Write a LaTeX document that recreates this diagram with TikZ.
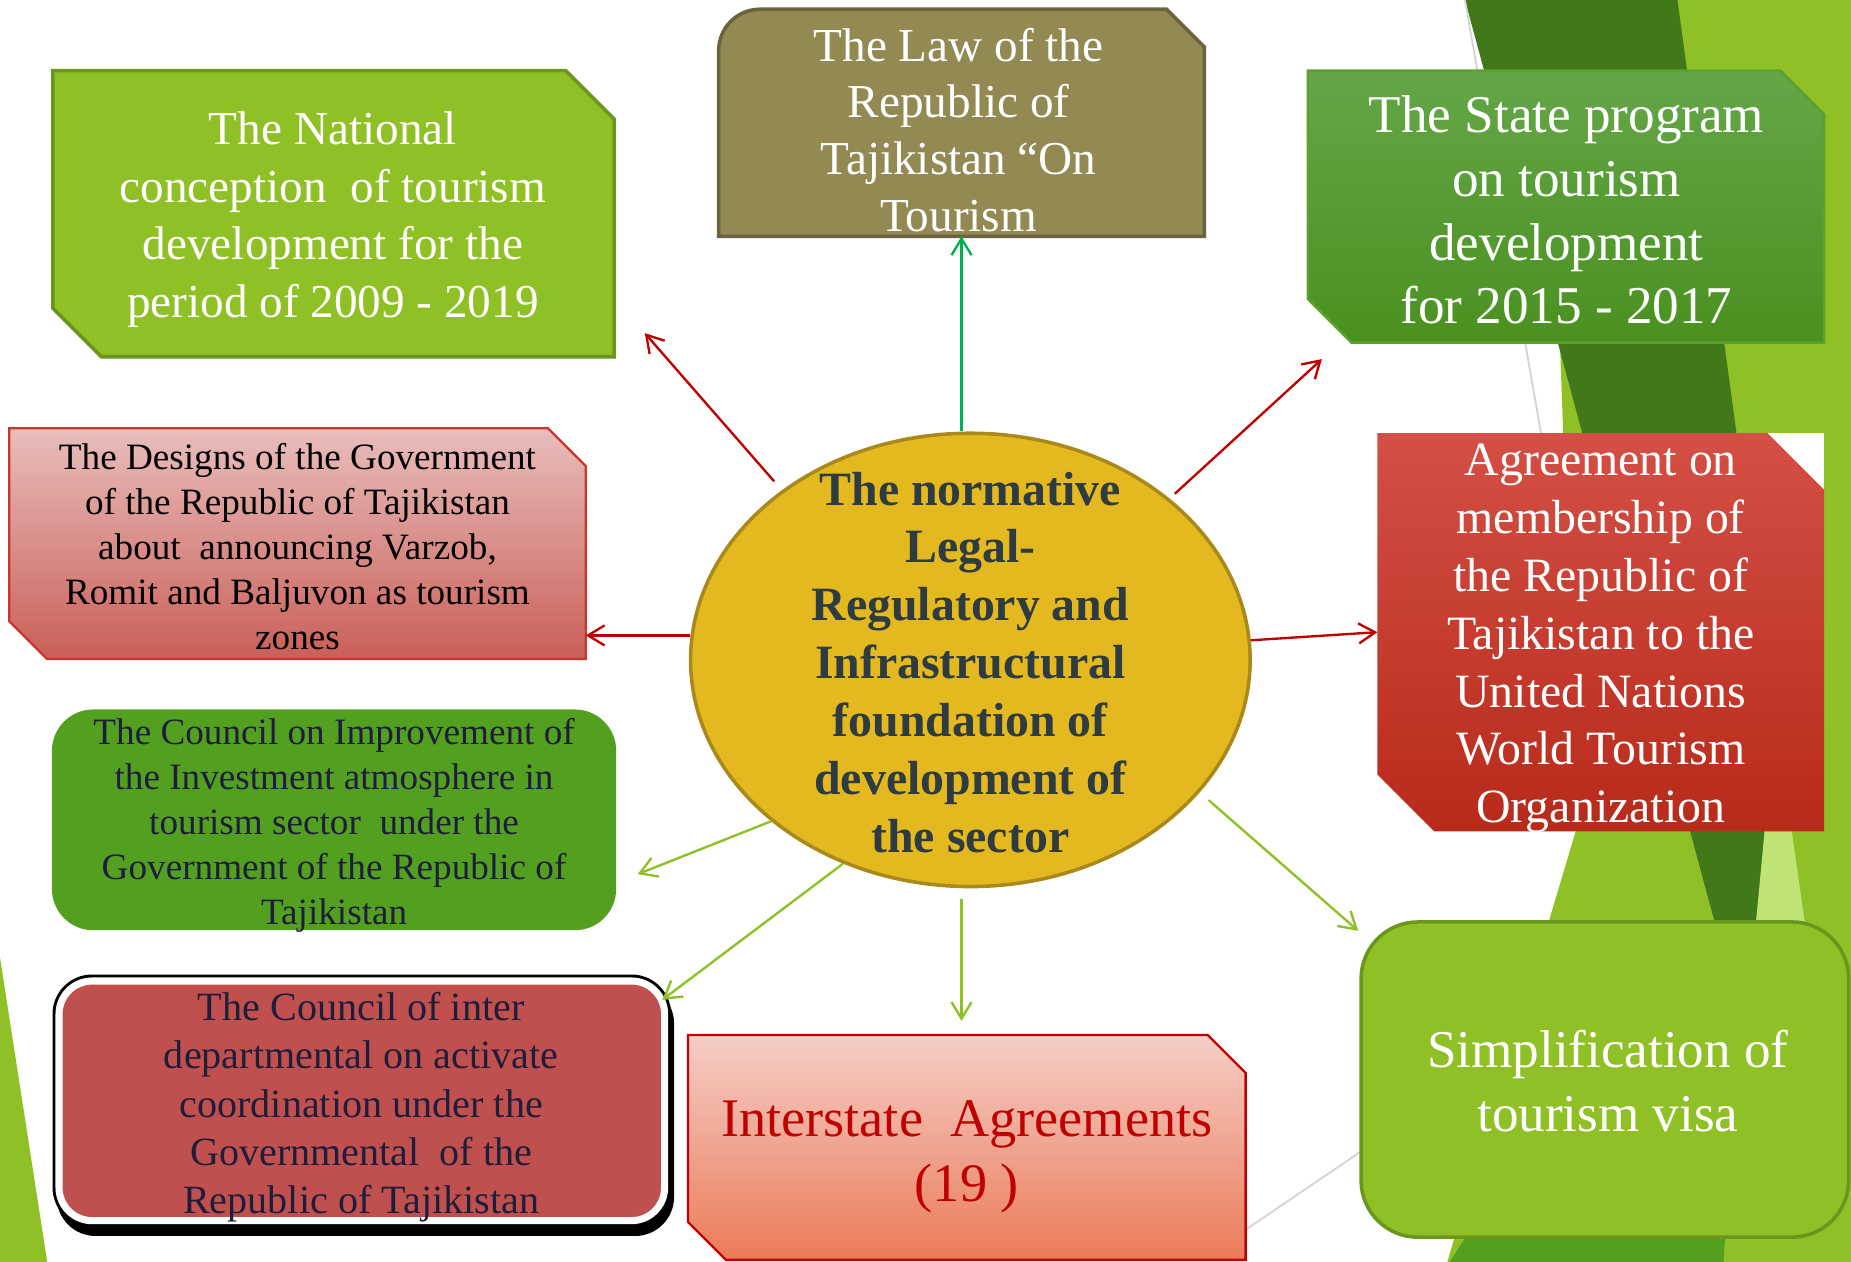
\documentclass[tikz,border=0pt]{standalone}
\usepackage{fontspec}
\setmainfont{Liberation Serif}
\usetikzlibrary{shapes.geometric,arrows.meta}

\definecolor{leafgreen}{HTML}{8FC126}
\definecolor{leafline}{HTML}{6B961E}
\definecolor{forestgreen}{HTML}{417819}
\definecolor{grassgreen}{HTML}{53A021}
\definecolor{palegreen}{HTML}{BFE375}
\definecolor{rulegray}{HTML}{D3D3D3}
\definecolor{olivefill}{HTML}{938953}
\definecolor{oliveline}{HTML}{6A6340}
\definecolor{statetop}{HTML}{64A647}
\definecolor{statebottom}{HTML}{4A9120}
\definecolor{stateline}{HTML}{5CA12E}
\definecolor{pinktop}{HTML}{E8BEBC}
\definecolor{pinkbottom}{HTML}{CA5F58}
\definecolor{pinkline}{HTML}{C9372C}
\definecolor{salmontop}{HTML}{F5CEC7}
\definecolor{salmonbottom}{HTML}{EB7B58}
\definecolor{darkred}{HTML}{C00000}
\definecolor{redtop}{HTML}{D44F46}
\definecolor{redbottom}{HTML}{B82A1A}
\definecolor{brickred}{HTML}{C0504D}
\definecolor{gold}{HTML}{E4B91F}
\definecolor{goldline}{HTML}{A8891A}
\definecolor{slate}{HTML}{2E3B40}
\definecolor{navy}{HTML}{1E1E3C}
\definecolor{lawgreen}{HTML}{00B050}

% box outline with the north east and south west corners cut off
\newcommand{\snipoutline}[3]{%
  \path[#3] ([xshift=#2]#1.south west) -- (#1.south east) -- ([yshift=-#2]#1.north east)
    -- ([xshift=-#2]#1.north east) -- (#1.north west) -- ([yshift=#2]#1.south west) -- cycle;}

\tikzset{
  frame/.style={rectangle, inner sep=0pt},
  roundbox/.style={rectangle, rounded corners=#1, inner sep=0pt},
  fontpt/.style 2 args={font=\fontsize{#1}{#2}\selectfont},
  boxtext/.style={align=center, inner sep=0pt},
  hub/.style={ellipse, fill=gold, draw=goldline, line width=3pt,
    minimum width=474pt, minimum height=384pt, inner sep=0pt},
  redarrow/.style={draw=darkred, line width=2pt, -{Straight Barb[length=14pt,width=17pt]}},
  greenarrow/.style={draw=leafgreen, line width=2pt, -{Straight Barb[length=14pt,width=17pt]}},
  lawarrow/.style={draw=lawgreen, line width=2pt, -{Straight Barb[length=14pt,width=17pt]}}
}

\begin{document}
\begin{tikzpicture}[x=1pt,y=-1pt]
  \useasboundingbox (0,0) rectangle (1568,1069);
  \fill[white] (0,0) rectangle (1568,1069);

  % slide background stripes
  \fill[leafgreen] (1320,250) -- (1421,0) -- (1568,0) -- (1568,1069) -- (1226,1069) -- (1336,700) -- cycle;
  \fill[grassgreen] (1330,910) -- (1470,910) -- (1460,1069) -- (1228,1069) -- cycle;
  \fill[forestgreen] (1241,0) -- (1421,0) -- (1471,367) -- (1497,740) -- (1482,890) -- cycle;
  \fill[palegreen] (1504,607) -- (1540,860) -- (1480,860) -- cycle;
  \fill[leafgreen] (0,811) -- (40,1069) -- (0,1069) -- cycle;
  \draw[rulegray, line width=1.5pt] (1241,0) -- (1320,450);
  \draw[rulegray, line width=1.5pt] (1040,1052) -- (1152,976);
  \fill[white] (1167,367) rectangle (1545,704);

  % boxes
  \node[frame, minimum width=475pt, minimum height=242pt] (nat) at (282.5,181) {};
  \snipoutline{nat}{41pt}{fill=leafgreen, draw=leafline, line width=3pt}
  \node[boxtext, text=white, fontpt={40}{49}] (natText) at (282,186)
    {The National\\conception~ of tourism\\development for the\\period of 2009 - 2019};

  \node[frame, minimum width=411pt, minimum height=192pt] (law) at (814.5,104) {};
  \filldraw[fill=olivefill, draw=oliveline, line width=3pt]
    (law.south west) [rounded corners=35pt] -- (law.north west) [sharp corners]
    -- ([xshift=-32pt]law.north east) -- ([yshift=-32pt]law.north east) -- (law.south east) -- cycle;
  \node[boxtext, text=white, fontpt={40}{48}] (lawText) at (812,110)
    {The Law of the\\Republic of\\Tajikistan “On\\Tourism};

  \node[frame, minimum width=437pt, minimum height=230pt] (state) at (1326.5,175) {};
  \snipoutline{state}{37pt}{top color=statetop, bottom color=statebottom, draw=stateline, line width=2pt}
  \node[boxtext, text=white, fontpt={45}{54}] (stateText) at (1327,178)
    {The State program\\on tourism\\development\\for 2015 - 2017};

  \node[frame, minimum width=488pt, minimum height=195pt] (designs) at (252,460.5) {};
  \snipoutline{designs}{32pt}{top color=pinktop, bottom color=pinkbottom, draw=pinkline, line width=2pt}
  \node[boxtext, text=black, fontpt={31.5}{38}] (designsText) at (252,463)
    {The Designs of the Government\\of the Republic of Tajikistan\\about~ announcing Varzob,\\Romit and Baljuvon as tourism\\zones};

  \node[roundbox=35pt, fill=grassgreen, minimum width=478pt, minimum height=187pt] (invest) at (283,694.5) {};
  \node[boxtext, text=navy, fontpt={31.5}{38}] (investText) at (283,699)
    {The Council on Improvement of\\the Investment atmosphere in\\tourism sector~ under the\\Government of the Republic of\\Tajikistan};

  \node[roundbox=28pt, fill=brickred, draw=white, line width=6pt,
        preaction={draw=black, fill=black, line width=10pt, transform canvas={xshift=3pt,yshift=-8pt}},
        preaction={draw=black, line width=11pt},
        minimum width=513pt, minimum height=203pt] (coord) at (306.5,932.5) {};
  \node[boxtext, text=navy, fontpt={34}{41}] (coordText) at (306,938)
    {The Council of inter\\departmental on activate\\coordination under the\\Governmental~ of the\\Republic of Tajikistan};

  \node[frame, minimum width=472pt, minimum height=190pt] (inter) at (819,972) {};
  \snipoutline{inter}{32pt}{top color=salmontop, bottom color=salmonbottom, draw=darkred, line width=2pt}
  \node[boxtext, text=darkred, fontpt={46}{55}] (interText) at (819,980)
    {Interstate~ Agreements\\(19 )};

  \node[frame, minimum width=378pt, minimum height=337pt] (agree) at (1356,535.5) {};
  \snipoutline{agree}{48pt}{top color=redtop, bottom color=redbottom}
  \node[boxtext, text=white, fontpt={40.5}{49}] (agreeText) at (1356,541)
    {Agreement on\\membership of\\the Republic of\\Tajikistan to the\\United Nations\\World Tourism\\Organization};

  \node[roundbox=48pt, fill=leafgreen, draw=leafline, line width=3pt,
        minimum width=413pt, minimum height=267pt] (visa) at (1359.5,914.5) {};
  \node[boxtext, text=white, fontpt={45}{54}] (visaText) at (1362,916)
    {Simplification of\\tourism visa};

  % the centre
  \node[hub] (hub) at (822,559) {};
  \node[boxtext, text=slate, font=\fontsize{40.5}{49}\selectfont\bfseries] (hubText) at (822,561)
    {The normative\\Legal-\\Regulatory and\\Infrastructural\\foundation of\\development of\\the sector};

  % arrows
  \coordinate (natTip)    at ([xshift=26pt,yshift=20pt]nat.south east);
  \coordinate (stateTip)  at ([xshift=12pt,yshift=-14pt]state.south west);
  \coordinate (investTip) at ([xshift=18pt,yshift=-46pt]invest.east);
  \coordinate (coordTip)  at ([xshift=-5pt,yshift=-19pt]coord.north east);
  \coordinate (visaTip)   at ([xshift=-1pt,yshift=-9pt]visa.north west);

  \draw[redarrow, shorten <=10pt] (hub.138) -- (natTip);
  \draw[lawarrow] (hub.north -| law.south) -- (law.south);
  \draw[redarrow, shorten <=6pt] (hub.39) -- (stateTip);
  \draw[redarrow] (hub.175) -- (hub.175 -| designs.east);
  \draw[redarrow] (hub.4) -- (agree.west);
  \draw[greenarrow] (hub.219) -- (investTip);
  \draw[greenarrow] (hub.238) -- (coordTip);
  \draw[greenarrow, shorten <=9pt, shorten >=12pt] (hub.south -| law.south) -- (inter.north -| law.south);
  \draw[greenarrow, shorten <=10pt] (hub.330) -- (visaTip);
\end{tikzpicture}
\end{document}
